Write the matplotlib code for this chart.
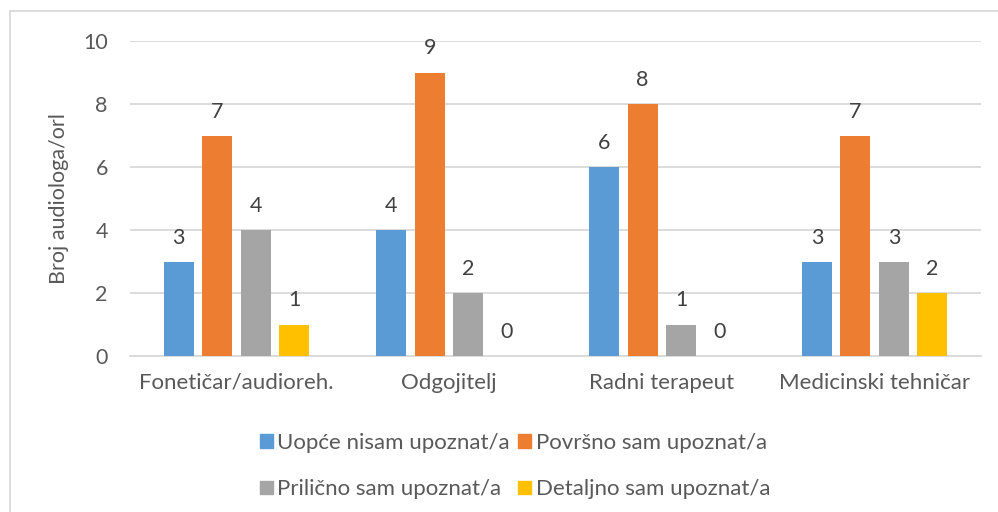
import matplotlib
matplotlib.use("Agg")
import matplotlib.pyplot as plt
import numpy as np
from matplotlib.patches import Rectangle, Patch

plt.rcParams['font.family'] = ['Lato', 'DejaVu Sans']

categories = ["Fonetičar/audioreh.", "Odgojitelj", "Radni terapeut", "Medicinski tehničar"]
series_names = ["Uopće nisam upoznat/a", "Površno sam upoznat/a",
                "Prilično sam upoznat/a", "Detaljno sam upoznat/a"]
uopce = [3, 4, 6, 3]
povrsno = [7, 9, 8, 7]
prilicno = [4, 2, 1, 3]
detaljno = [1, 0, 0, 2]
series_values = [uopce, povrsno, prilicno, detaljno]
colors = ["#5B9BD5", "#ED7D31", "#A5A5A5", "#FFC000"]
yticks = [0, 2, 4, 6, 8, 10]
ylabel = "Broj audiologa/orl"

text_color = "#595959"
grid_color = "#D9D9D9"

fig = plt.figure(figsize=(9.98, 5.12), dpi=100)
# outer chart border
fig.patches.append(Rectangle((10/998, -0.1), 1.2, 1.1 - 11/512, transform=fig.transFigure,
                             fill=False, edgecolor=grid_color, linewidth=1.3))

ax = fig.add_axes([130/998, 1 - 356/512, (981 - 130)/998, (356 - 41)/512])
x = np.arange(len(categories))
bw = 0.142
step = 0.181
for i, (vals, col, name) in enumerate(zip(series_values, colors, series_names)):
    pos = x + (i - 1.5) * step
    ax.bar(pos, vals, width=bw, color=col, label=name, zorder=3)
    for px, v in zip(pos, vals):
        ax.annotate(str(v), (px, v), xytext=(0, 14), textcoords='offset pixels',
                    ha='center', va='bottom', fontsize=15.5, color="#404040")

ax.set_xlim(-0.5, len(categories) - 0.5)
ax.set_ylim(0, 10)
ax.set_yticks(yticks)
ax.set_xticks(x)
ax.set_xticklabels(categories)
ax.tick_params(axis='both', length=0, labelsize=15.5, colors=text_color)
ax.tick_params(axis='x', labelsize=16, pad=12)
ax.tick_params(axis='y', pad=16)
ax.yaxis.grid(True, color=grid_color, linewidth=1.3, zorder=0)
ax.set_axisbelow(True)
for s in ['top', 'right', 'left']:
    ax.spines[s].set_visible(False)
ax.spines['bottom'].set_color(grid_color)
ax.spines['bottom'].set_linewidth(1.3)
ax.set_ylabel(ylabel, fontsize=15.5, color=text_color, labelpad=10)

handles = [Patch(color=c) for c in colors]
order = [0, 2, 1, 3]
fig.legend([handles[i] for i in order], [series_names[i] for i in order],
           loc='center', bbox_to_anchor=(515/998, 1 - 466/512), ncol=2, frameon=False,
           fontsize=16, labelcolor=text_color, handlelength=0.58, handleheight=0.58,
           handletextpad=0.22, columnspacing=0.36, labelspacing=1.2)

fig.savefig("out.png", dpi=100)
